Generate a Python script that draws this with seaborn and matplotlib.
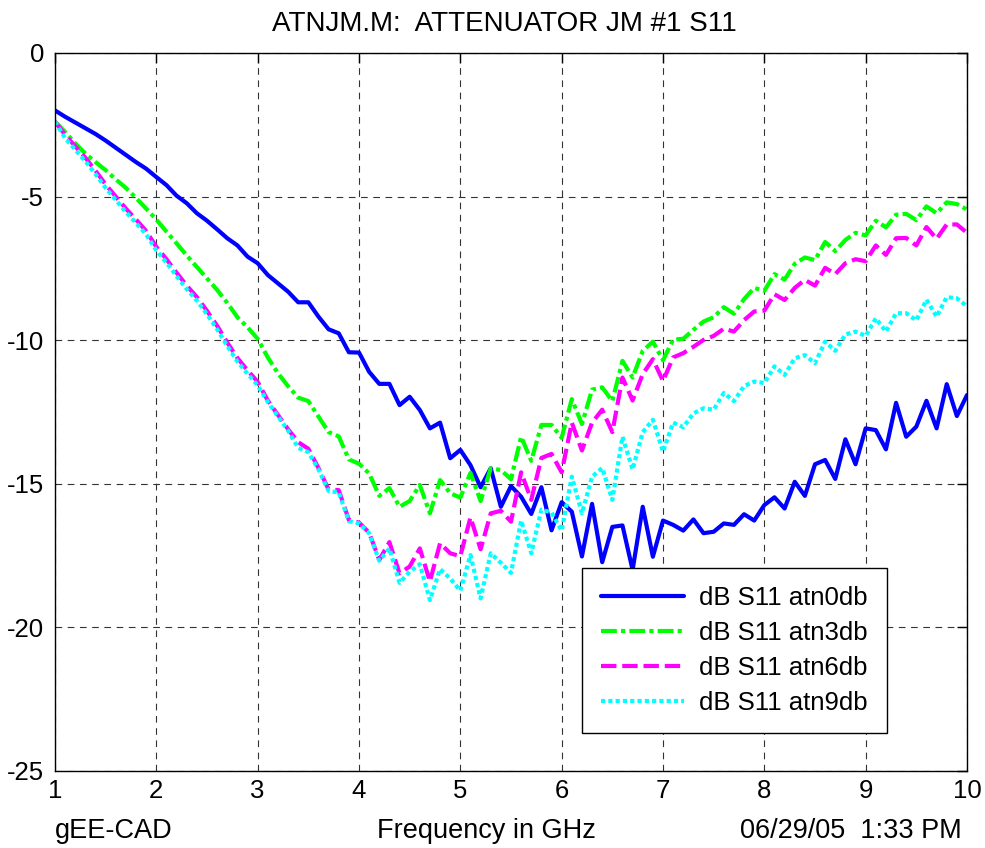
import numpy as np
import pandas as pd
import matplotlib
matplotlib.use("Agg")
import matplotlib.pyplot as plt
import seaborn as sns

# Frequency sweep, 1 to 10 GHz in 0.1 GHz steps (91 points)
freq_ghz = np.linspace(1.0, 10.0, 91)

series_names = ["dB S11 atn0db", "dB S11 atn3db", "dB S11 atn6db", "dB S11 atn9db"]

s11_atn0db = [
    -2.00, -2.22, -2.42, -2.62, -2.82, -3.05, -3.30, -3.55, -3.80, -4.03,
    -4.32, -4.60, -4.97, -5.23, -5.58, -5.84, -6.14, -6.45, -6.70, -7.09,
    -7.32, -7.73, -8.02, -8.31, -8.68, -8.68, -9.18, -9.62, -9.76, -10.42,
    -10.43, -11.10, -11.52, -11.52, -12.26, -11.97, -12.43, -13.07, -12.87, -14.11,
    -13.82, -14.35, -15.12, -14.46, -15.80, -15.08, -15.45, -16.05, -15.12, -16.62,
    -15.64, -15.97, -17.53, -15.70, -17.73, -16.50, -16.45, -18.00, -15.80, -17.54,
    -16.28, -16.43, -16.63, -16.24, -16.72, -16.67, -16.38, -16.43, -16.06, -16.28,
    -15.74, -15.47, -15.86, -14.93, -15.42, -14.32, -14.17, -14.83, -13.45, -14.32,
    -13.07, -13.13, -13.80, -12.18, -13.36, -13.01, -12.11, -13.07, -11.53, -12.64,
    -11.91,
]

s11_atn3db = [
    -2.39, -2.75, -3.15, -3.50, -3.80, -4.08, -4.40, -4.70, -5.05, -5.42,
    -5.80, -6.22, -6.63, -7.05, -7.45, -7.85, -8.25, -8.70, -9.20, -9.55,
    -9.95, -10.60, -11.15, -11.60, -12.00, -12.12, -12.66, -13.20, -13.35, -14.15,
    -14.30, -14.64, -15.42, -15.15, -15.80, -15.60, -15.04, -16.03, -14.87, -15.33,
    -15.48, -14.62, -15.60, -14.46, -14.52, -14.84, -13.36, -14.20, -12.95, -12.95,
    -13.40, -12.05, -12.92, -11.72, -11.64, -12.12, -10.72, -11.30, -10.37, -10.05,
    -10.70, -9.98, -9.95, -9.64, -9.35, -9.20, -8.85, -9.08, -8.57, -8.18,
    -8.28, -7.70, -7.89, -7.34, -7.12, -7.21, -6.58, -6.90, -6.51, -6.26,
    -6.35, -5.84, -6.07, -5.63, -5.60, -5.82, -5.34, -5.58, -5.20, -5.26,
    -5.45,
]

s11_atn6db = [
    -2.39, -2.85, -3.25, -3.65, -4.10, -4.58, -5.00, -5.42, -5.80, -6.20,
    -6.75, -7.18, -7.65, -8.10, -8.50, -8.98, -9.50, -10.08, -10.62, -11.05,
    -11.45, -12.10, -12.60, -13.10, -13.55, -13.78, -14.45, -15.20, -15.22, -16.26,
    -16.35, -16.70, -17.65, -17.03, -18.12, -17.88, -17.25, -18.40, -17.07, -17.42,
    -17.52, -16.17, -17.28, -16.03, -15.94, -16.32, -14.60, -15.56, -14.10, -13.96,
    -14.60, -12.87, -13.84, -12.87, -12.42, -13.20, -11.30, -12.10, -11.18, -10.66,
    -11.42, -10.60, -10.45, -10.23, -9.99, -9.85, -9.60, -9.70, -9.30, -9.00,
    -8.97, -8.40, -8.60, -8.18, -7.90, -8.10, -7.48, -7.70, -7.32, -7.18,
    -7.25, -6.70, -7.03, -6.45, -6.44, -6.70, -6.06, -6.47, -5.97, -5.97,
    -6.26,
]

s11_atn9db = [
    -2.39, -2.97, -3.37, -3.77, -4.22, -4.70, -5.12, -5.54, -5.92, -6.32,
    -6.87, -7.30, -7.77, -8.22, -8.62, -9.10, -9.62, -10.20, -10.74, -11.17,
    -11.57, -12.15, -12.65, -13.15, -13.75, -13.90, -14.50, -15.25, -15.30, -16.30,
    -16.38, -16.72, -17.68, -17.25, -18.45, -18.06, -17.80, -19.05, -17.97, -18.30,
    -18.72, -17.48, -18.99, -17.42, -17.75, -18.10, -16.28, -17.42, -15.90, -16.00,
    -16.63, -14.75, -16.03, -14.75, -14.45, -15.56, -13.36, -14.50, -13.20, -12.77,
    -13.88, -12.87, -13.03, -12.55, -12.37, -12.42, -11.84, -12.12, -11.60, -11.44,
    -11.49, -10.91, -11.21, -10.63, -10.52, -10.80, -10.05, -10.37, -9.80, -9.70,
    -9.85, -9.24, -9.70, -9.06, -9.06, -9.31, -8.59, -9.18, -8.50, -8.54,
    -8.82,
]

x_ticks = [1, 2, 3, 4, 5, 6, 7, 8, 9, 10]
y_ticks = [-25, -20, -15, -10, -5, 0]

title_text = "ATNJM.M:  ATTENUATOR JM #1 S11"
left_note = "gEE-CAD"
x_label = "Frequency in GHz"
date_note = "06/29/05  1:33 PM"

# Long-form table for seaborn
frames = []
for name, vals in zip(series_names, [s11_atn0db, s11_atn3db, s11_atn6db, s11_atn9db]):
    frames.append(pd.DataFrame({"freq": freq_ghz, "db": vals, "trace": name}))
df = pd.concat(frames, ignore_index=True)

sns.set_theme(style="white")
plt.rcParams.update({
    "font.family": ["Liberation Sans", "DejaVu Sans"],
    "axes.unicode_minus": False,
    "axes.edgecolor": "black",
    "axes.linewidth": 1.0,
    "xtick.color": "black",
    "ytick.color": "black",
    "text.color": "black",
})

W, H = 985, 848
fig = plt.figure(figsize=(W / 100, H / 100), dpi=100)
fig.patch.set_facecolor("white")
ax = fig.add_axes([55 / W, (H - 771) / H, 912 / W, 718 / H])

palette = dict(zip(series_names, ["#0000ff", "#00ff00", "#ff00ff", "#00ffff"]))
dashes = dict(zip(series_names, ["", (3.8, 1.0, 1.0, 1.0), (3.7, 1.4), (1.0, 0.75)]))

sns.lineplot(data=df, x="freq", y="db", hue="trace", style="trace",
             palette=palette, dashes=dashes, linewidth=3, legend=False,
             sort=False, ax=ax)

ax.set_xlim(1, 10)
ax.set_ylim(-25, 0)
ax.set_xticks(x_ticks)
ax.set_yticks(y_ticks)
ax.set_xticklabels([str(t) for t in x_ticks])
ax.set_yticklabels([str(t) for t in y_ticks])
ax.set_xlabel("")
ax.set_ylabel("")
ax.grid(True, color="0.2", linestyle=(0, (6, 5)), linewidth=0.8)
ax.set_axisbelow(True)
for sp in ax.spines.values():
    sp.set_visible(True)
    sp.set_color("black")
    sp.set_linewidth(1.0)
ax.tick_params(axis="both", which="major", direction="in", length=7, width=1,
               top=True, right=True, labelsize=18.5, colors="black")
ax.tick_params(axis="x", pad=6)
ax.tick_params(axis="y", pad=8)

handles = ax.get_lines()[:4]
leg = ax.legend(handles, series_names, loc="lower left",
                bbox_to_anchor=((582 - 55) / 912, (771 - 733) / 718),
                borderaxespad=0, fontsize=18.5, frameon=True, fancybox=False,
                edgecolor="black", framealpha=1, borderpad=0.72,
                handlelength=3.25, handletextpad=0.6, labelspacing=0.42)
leg.get_frame().set_linewidth(1.0)

fig.text(504 / W, 1 - 31 / H, title_text, ha="center", va="baseline", fontsize=20)
fig.text(55 / W, 1 - 838 / H, left_note, ha="left", va="baseline", fontsize=19.5)
fig.text(486 / W, 1 - 838 / H, x_label, ha="center", va="baseline", fontsize=19.5)
fig.text(962 / W, 1 - 838 / H, date_note, ha="right", va="baseline", fontsize=19.5)

fig.savefig("out.png", dpi=100, facecolor="white")
